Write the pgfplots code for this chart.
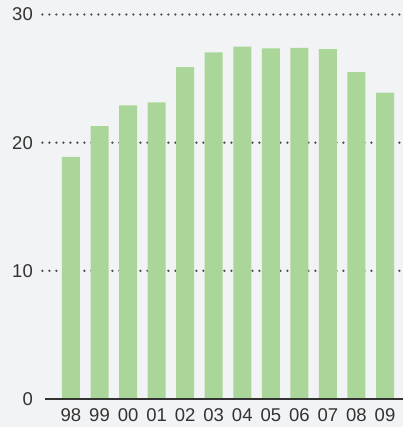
\documentclass[border=0pt]{standalone}
\usepackage{pgfplots}
\pgfplotsset{compat=1.18}
\usepackage{fontspec}
\setmainfont{Liberation Sans}
\definecolor{bg}{RGB}{242,243,245}
\definecolor{barc}{RGB}{170,214,154}
\definecolor{txt}{RGB}{51,51,51}
\definecolor{gridc}{RGB}{80,80,80}
\begin{document}
\begin{tikzpicture}
\fill[bg] (-41pt,-28pt) rectangle (362pt,399pt);
\begin{axis}[
  scale only axis,
  width=362pt, height=390.9pt,
  xmin=-1.05, xmax=11.63,
  ymin=0, ymax=30.5,
  axis line style={draw=none},
  tick style={draw=none},
  clip=false,
  ytick={0,10,20,30},
  xtick={0,...,11},
  xticklabels={98,99,00,01,02,03,04,05,06,07,08,09},
  /pgf/number format/assume math mode=true,
  tick label style={font=\fontsize{18.5}{18.5}\selectfont, text=txt},
  yticklabel style={anchor=east, inner sep=0pt, xshift=-8pt},
  xticklabel style={anchor=north, inner sep=0pt, yshift=-9pt},
  major tick length=0pt,
]
\foreach \g in {10,20,30}{
  \edef\tmp{\noexpand\draw[gridc, line width=2.6pt, line cap=round, dash pattern=on 0pt off 7pt] (axis cs:-1.0,\g) -- (axis cs:11.63,\g);}
  \tmp
}
\addplot[ybar, bar width=18pt, fill=barc, draw=none] coordinates {
  (0,18.9) (1,21.3) (2,22.9) (3,23.15) (4,25.9) (5,27.05)
  (6,27.5) (7,27.35) (8,27.4) (9,27.3) (10,25.5) (11,23.9)
};
\draw[txt, line width=1.5pt] (axis cs:-0.9,0) -- (axis cs:11.63,0);
\end{axis}
\pgfresetboundingbox
\path (-41pt,-28pt) rectangle (362pt,399pt);
\end{tikzpicture}
\end{document}
